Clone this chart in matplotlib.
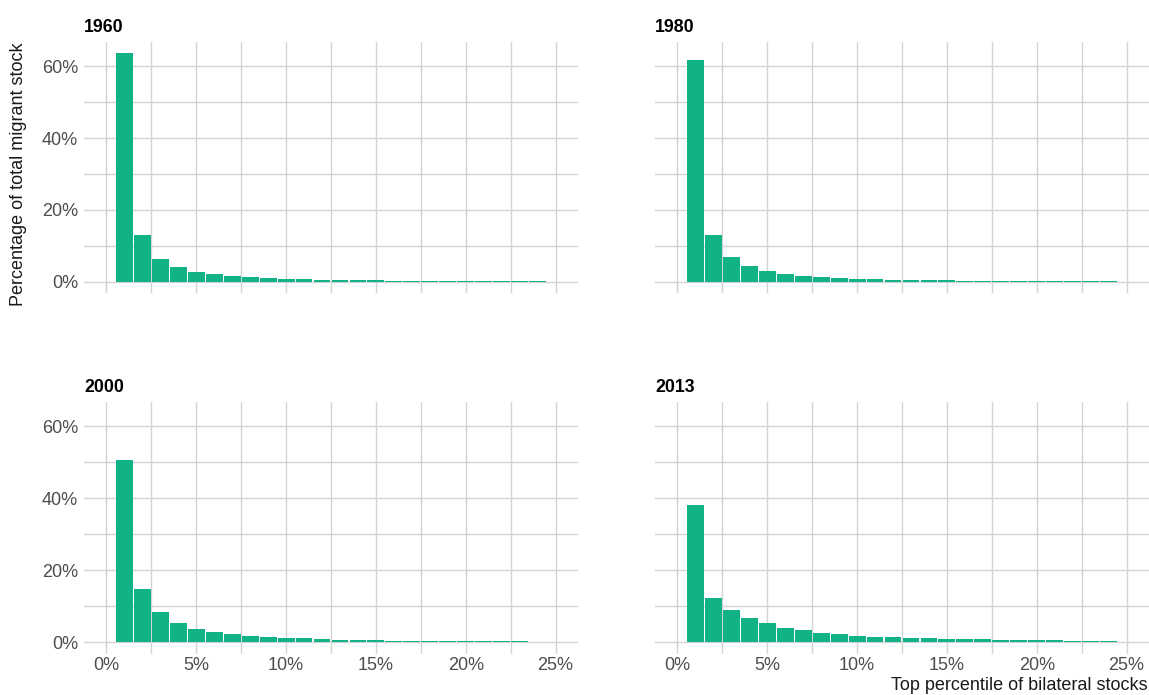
import matplotlib
matplotlib.use("Agg")
import matplotlib.pyplot as plt
from matplotlib.ticker import FuncFormatter, MultipleLocator

plt.rcParams["font.family"] = ["Liberation Sans", "DejaVu Sans"]

# top percentile bins (bar centres, in %)
percentile = [1, 2, 3, 4, 5, 6, 7, 8, 9, 10, 11, 12,
              13, 14, 15, 16, 17, 18, 19, 20, 21, 22, 23, 24]

years = ["1960", "1980", "2000", "2013"]

share_1960 = [63.6, 13.0, 6.3, 4.1, 2.7, 2.0, 1.6, 1.3, 1.0, 0.75, 0.75, 0.5,
              0.5, 0.5, 0.5, 0.25, 0.25, 0.25, 0.25, 0.25, 0.25, 0.25, 0.25, 0.25]
share_1980 = [61.7, 13.0, 6.9, 4.4, 3.0, 2.2, 1.6, 1.3, 1.0, 0.75, 0.75, 0.5,
              0.5, 0.5, 0.5, 0.25, 0.25, 0.25, 0.25, 0.25, 0.25, 0.25, 0.25, 0.25]
share_2000 = [50.8, 14.9, 8.4, 5.35, 3.7, 2.85, 2.3, 1.75, 1.5, 1.2, 1.2, 0.9,
              0.65, 0.65, 0.65, 0.4, 0.4, 0.4, 0.4, 0.3, 0.3, 0.3, 0.3, 0.1]
share_2013 = [38.1, 12.3, 8.9, 6.7, 5.3, 4.0, 3.4, 2.6, 2.3, 1.75, 1.5, 1.5,
              1.2, 1.2, 0.9, 0.9, 0.9, 0.65, 0.65, 0.65, 0.65, 0.35, 0.35, 0.35]

shares = [share_1960, share_1980, share_2000, share_2013]

BAR = "#11b386"
GRID = "#d3d3d3"
W, H = 1149, 695

fig = plt.figure(figsize=(W / 100, H / 100), dpi=100)

# panel boxes in pixels: (left, top, right, bottom)
boxes = [(84, 42, 578, 293), (655, 42, 1149, 293),
         (84, 402, 578, 654), (655, 402, 1149, 654)]

pct = FuncFormatter(lambda v, _: f"{v:.0f}%")

for i, (year, vals, (l, t, r, b)) in enumerate(zip(years, shares, boxes)):
    ax = fig.add_axes([l / W, 1 - b / H, (r - l) / W, (b - t) / H])
    ax.set_axisbelow(True)
    # narrow bars instead of white outlines so the tiny ones stay visible
    ax.bar(percentile, vals, width=0.94, color=BAR, linewidth=0)
    ax.set_xlim(-1.25, 26.25)
    ax.set_ylim(-3.2, 66.8)
    ax.xaxis.set_major_locator(MultipleLocator(5))
    ax.xaxis.set_minor_locator(MultipleLocator(2.5))
    ax.yaxis.set_minor_locator(MultipleLocator(10))
    ax.set_yticks([0, 20, 40, 60])
    ax.xaxis.set_major_formatter(pct)
    ax.yaxis.set_major_formatter(pct)
    ax.grid(True, which="both", color=GRID, linewidth=1.0)
    for s in ax.spines.values():
        s.set_visible(False)
    ax.tick_params(which="both", length=0, labelsize=13, colors="#4d4d4d")
    ax.tick_params(axis="y", pad=4.3)
    ax.tick_params(axis="x", pad=2)
    if i < 2:
        ax.tick_params(axis="x", labelbottom=False)
    if i % 2 == 1:
        ax.tick_params(axis="y", labelleft=False)
    fig.text(l / W, 1 - (t - 10) / H, year, fontsize=12.8, fontweight="bold",
             color="black", ha="left", va="baseline")

fig.text(19 / W, 1 - 42 / H, "Percentage of total migrant stock", rotation=90,
         fontsize=13, color="#1a1a1a", ha="center", va="top")
fig.text(1148 / W, 1 - 690 / H, "Top percentile of bilateral stocks",
         fontsize=13, color="#1a1a1a", ha="right", va="baseline")

fig.savefig("out.png", dpi=100)
